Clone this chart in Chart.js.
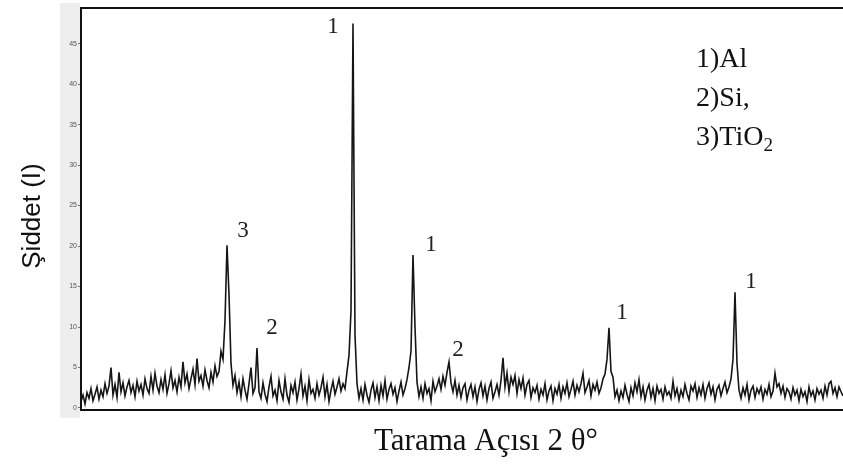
<!DOCTYPE html>
<html>
<head>
<meta charset="utf-8">
<script src="https://cdn.jsdelivr.net/npm/chart.js@4.4.1/dist/chart.umd.min.js"></script>
<style>
  html, body { margin: 0; padding: 0; background: #fff; }
  #wrap { width: 843px; height: 469px; position: relative; }
</style>
</head>
<body>
<div id="wrap"><canvas id="xrd"></canvas></div>
<script>
// scan grid (2 theta), one reading every 0.2 degree
var angleStart = 10;
var angleStep = 0.2;

// intensity readings
var intensity = [
  0.8,1.6,0.5,1.9,1.2,2.4,0.9,1.7,2.6,1.1,
  2.2,1.4,3.0,1.8,2.7,5.0,1.6,2.9,1.3,4.4,
  2.0,3.1,1.5,2.6,3.4,1.9,2.8,1.4,3.3,2.1,
  2.9,1.6,3.6,2.4,1.8,3.9,2.2,4.3,2.7,1.9,
  3.5,2.3,4.1,1.8,3.0,4.6,2.5,3.4,2.0,3.8,
  2.6,5.7,3.1,4.2,2.4,3.6,4.8,2.9,6.1,3.3,
  4.0,2.7,4.7,3.4,2.5,4.4,3.2,5.2,3.9,4.5,
  7.0,6.0,10.8,20.1,14.0,5.5,2.8,4.0,1.9,3.2,
  1.4,3.6,2.2,1.1,3.0,5.0,1.8,2.5,7.4,2.0,
  1.2,3.1,1.7,0.8,2.6,3.9,1.5,2.2,0.9,3.4,
  2.0,1.1,3.6,1.6,0.7,2.8,1.9,3.2,1.0,2.4,
  4.2,1.5,2.7,0.9,3.5,1.8,2.3,1.2,3.0,1.6,
  2.5,3.8,1.4,2.9,0.8,2.2,3.3,1.7,2.6,3.6,
  2.1,3.0,2.4,4.5,6.5,12.0,47.5,9.0,3.0,1.2,
  2.4,1.0,2.9,1.6,0.7,2.2,3.1,1.3,2.6,0.9,
  2.8,1.5,3.4,1.1,2.3,3.0,1.7,2.5,0.8,2.1,
  3.2,1.6,2.4,3.5,5.0,7.0,18.9,10.0,3.2,1.4,
  2.6,1.2,3.0,1.8,2.4,0.9,3.3,2.0,2.7,3.6,
  2.3,3.9,2.8,4.4,5.7,3.1,2.0,3.4,1.6,2.8,
  1.3,2.5,3.0,1.0,2.2,2.9,1.4,2.6,0.8,2.3,
  3.1,1.5,2.7,1.0,2.4,3.2,1.2,2.0,2.9,1.6,
  3.4,6.2,2.6,4.3,2.0,3.8,2.9,4.0,1.8,3.5,
  2.4,3.7,1.6,2.9,3.4,1.3,2.5,1.9,2.8,1.1,
  2.3,1.6,3.0,1.0,2.1,2.7,0.9,2.4,1.7,2.9,
  1.2,2.6,1.8,3.1,1.4,2.3,3.3,1.6,2.8,2.0,
  3.0,4.3,1.9,2.6,3.4,1.5,2.9,2.2,3.2,1.8,
  2.5,3.6,4.2,6.0,9.9,4.5,3.8,1.4,2.2,0.9,
  2.1,1.3,2.8,1.7,0.8,2.5,1.5,3.1,2.0,3.5,
  1.4,2.6,1.0,2.2,2.9,1.3,2.4,0.9,2.7,1.8,
  2.3,1.1,2.6,1.6,2.0,1.2,3.3,1.5,2.4,1.0,
  2.2,1.4,2.9,1.8,1.0,2.7,2.1,3.0,1.3,2.5,
  1.6,2.9,1.2,2.4,3.1,1.7,2.6,1.0,2.3,2.8,
  1.5,2.4,3.2,1.9,2.6,3.6,6.0,14.3,5.5,2.2,
  1.2,2.5,1.6,2.9,1.0,2.2,2.7,1.3,2.4,1.8,
  2.6,1.1,2.3,1.7,2.9,1.4,2.1,4.3,2.6,3.0,
  1.8,2.7,1.3,2.4,2.0,1.1,2.5,1.6,2.2,0.9,
  2.3,1.4,2.0,0.8,2.6,1.5,2.1,1.0,2.4,1.7,
  2.2,1.2,2.7,1.6,3.0,3.3,1.8,2.5,1.4,2.6,
  2.0,1.5
];

// peak markers: 1 = Al, 2 = Si, 3 = TiO2
var peakText = ["1", "3", "2", "1", "2", "1", "1"];
var peakAngle = [35.2, 26.2, 29.1, 45.0, 47.7, 64.1, 77.0];
var peakLevel = [47.0, 21.9, 9.9, 20.1, 7.2, 11.7, 15.6];

var yTicks = [0, 5, 10, 15, 20, 25, 30, 35, 40, 45];
var legendLines = ["1)Al", "2)Si,", "3)TiO"];

var points = intensity.map(function(v, i) {
  return { x: angleStart + i * angleStep, y: v };
});
var lastAngle = angleStart + (intensity.length - 1) * angleStep;

var decorPlugin = {
  id: "decor",
  beforeDraw: function(chart) {
    var ctx = chart.ctx;
    ctx.save();
    ctx.fillStyle = "#fff";
    ctx.fillRect(0, 0, chart.width, chart.height);
    // grey strip behind the tick labels
    ctx.fillStyle = "#eeeeee";
    ctx.fillRect(60, 3, 20, 415);
    ctx.restore();
  },
  afterDraw: function(chart) {
    var ctx = chart.ctx;
    var area = chart.chartArea;
    var xs = chart.scales.x, ys = chart.scales.y;
    ctx.save();
    // top frame line
    ctx.strokeStyle = "#111";
    ctx.lineWidth = 2;
    ctx.beginPath();
    ctx.moveTo(area.left, area.top);
    ctx.lineTo(area.right, area.top);
    ctx.stroke();

    // peak numbers
    ctx.fillStyle = "#222";
    ctx.font = "23px 'Liberation Serif'";
    ctx.textAlign = "center";
    ctx.textBaseline = "middle";
    peakText.forEach(function(t, i) {
      ctx.fillText(t, xs.getPixelForValue(peakAngle[i]), ys.getPixelForValue(peakLevel[i]));
    });

    // phase key
    ctx.font = "28px 'Liberation Serif'";
    ctx.textAlign = "left";
    ctx.textBaseline = "alphabetic";
    ctx.fillStyle = "#111";
    legendLines.forEach(function(t, i) {
      ctx.fillText(t, 696, 67 + i * 39);
    });
    var w = ctx.measureText(legendLines[2]).width;
    ctx.font = "19px 'Liberation Serif'";
    ctx.fillText("2", 696 + w, 67 + 2 * 39 + 6);

    // axis titles
    ctx.font = "26px 'Liberation Sans'";
    ctx.textAlign = "center";
    ctx.textBaseline = "middle";
    ctx.save();
    ctx.translate(33, 216);
    ctx.rotate(-Math.PI / 2);
    ctx.fillText("Şiddet (I)", 0, 0);
    ctx.restore();

    ctx.font = "31px 'Liberation Serif'";
    ctx.fillText("Tarama Açısı 2 θ°", 486, 442);
    ctx.restore();
  }
};

new Chart(document.getElementById("xrd"), {
  type: "line",
  data: {
    datasets: [{
      data: points,
      borderColor: "#151515",
      borderWidth: 1.6,
      pointRadius: 0,
      tension: 0,
      fill: false
    }]
  },
  options: {
    responsive: true,
    maintainAspectRatio: false,
    animation: false,
    layout: { padding: { top: 8, right: 0, left: 0, bottom: 0 } },
    plugins: { legend: { display: false }, tooltip: { enabled: false } },
    scales: {
      x: {
        type: "linear",
        min: angleStart,
        max: lastAngle,
        grid: { display: false },
        border: { display: true, color: "#111", width: 2 },
        ticks: { display: false },
        afterFit: function(scale) { scale.height = 59; }
      },
      y: {
        min: -0.25,
        max: 49.4,
        grid: { drawOnChartArea: false, drawTicks: true, tickLength: 3, color: "#777" },
        border: { display: true, color: "#111", width: 2 },
        ticks: { padding: 1, color: "#555", font: { size: 7, family: "'Liberation Sans'" } },
        afterBuildTicks: function(scale) {
          scale.ticks = yTicks.map(function(v) { return { value: v }; });
        },
        afterFit: function(scale) { scale.width = 81; }
      }
    }
  },
  plugins: [decorPlugin]
});
</script>
</body>
</html>
